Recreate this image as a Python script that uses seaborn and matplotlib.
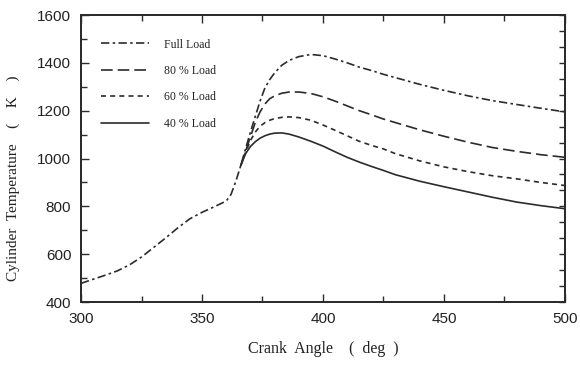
import matplotlib
matplotlib.use("Agg")
import matplotlib.pyplot as plt
from matplotlib.ticker import MultipleLocator
import numpy as np
import pandas as pd
import seaborn as sns

# Compression stroke (shared by every load) and combustion/expansion part
compression_angle = [300, 305, 310, 315, 320, 325, 330, 335, 340, 345, 350,
                     355, 360, 362, 364, 366]
compression_temp = [478, 495, 512, 530, 555, 588, 628, 668, 710, 748, 775,
                    798, 822, 850, 905, 970]

expansion_angle = [366, 368, 370, 372, 374, 376, 378, 380, 383, 386, 390, 395,
                   400, 405, 410, 415, 420, 425, 430, 440, 450, 460, 470, 480,
                   490, 500]
full_load = [970, 1040, 1110, 1175, 1240, 1295, 1330, 1358, 1390, 1410, 1426,
             1435, 1430, 1416, 1400, 1382, 1368, 1352, 1338, 1310, 1285, 1262,
             1242, 1226, 1210, 1195]
load_80 = [970, 1030, 1090, 1150, 1195, 1228, 1250, 1262, 1273, 1278, 1278,
           1272, 1258, 1240, 1220, 1200, 1183, 1165, 1150, 1120, 1093, 1068,
           1046, 1030, 1016, 1005]
load_60 = [970, 1025, 1075, 1110, 1135, 1150, 1160, 1167, 1172, 1174, 1171,
           1160, 1140, 1118, 1095, 1072, 1055, 1040, 1020, 990, 965, 945, 928,
           915, 900, 887]
load_40 = [970, 1020, 1050, 1070, 1085, 1095, 1102, 1106, 1107, 1102, 1090,
           1072, 1052, 1028, 1005, 985, 967, 950, 932, 905, 882, 860, 838, 818,
           803, 790]

labels = ["Full Load", "80 % Load", "60 % Load", "40 % Load"]

sns.set_theme(style="white")
plt.rcParams["font.family"] = ["Liberation Sans", "DejaVu Sans"]

fig = plt.figure(figsize=(5.8, 3.65), dpi=100)
ax = fig.add_axes([0.1397, 0.1726, 0.8343, 0.7863])

ink = "#2b2b2b"
styles = [(5, 2, 1.5, 2), (7, 3), (3, 2.5), ()]
series = [full_load, load_80, load_60, load_40]

handles = []
for i, (lab, vals, dash) in enumerate(zip(labels, series, styles)):
    if i == 0:
        x = compression_angle[:-1] + expansion_angle
        y = compression_temp[:-1] + vals
    else:
        x = expansion_angle
        y = vals
    df = pd.DataFrame({"angle": x, "temp": y})
    sns.lineplot(data=df, x="angle", y="temp", ax=ax, color=ink, lw=1.2,
                 label=lab)
    line = ax.lines[-1]
    if dash:
        line.set_dashes(dash)
    handles.append(line)

ax.set_xlim(300, 500)
ax.set_ylim(400, 1600)
ax.xaxis.set_major_locator(MultipleLocator(50))
ax.xaxis.set_minor_locator(MultipleLocator(25))
ax.yaxis.set_major_locator(MultipleLocator(200))
ax.yaxis.set_minor_locator(MultipleLocator(100))
ax.tick_params(axis="both", which="both", direction="in", color=ink,
               top=True, right=False, bottom=True, left=True)
ax.tick_params(which="major", length=6, width=1, labelsize=11,
               labelcolor="#222222", pad=7)
ax.tick_params(which="minor", length=4, width=1)

# right-hand scale ticks
ax_r = ax.twinx()
ax_r.set_ylim(0, 18)
ax_r.yaxis.set_major_locator(MultipleLocator(1))
ax_r.tick_params(axis="y", direction="in", length=4, width=1, color=ink,
                 labelright=False)
ax_r.grid(False)

for a in (ax, ax_r):
    for sp in a.spines.values():
        sp.set_color(ink)
        sp.set_linewidth(1.3)

serif = ["Liberation Serif", "DejaVu Serif"]
ax.set_xlabel("Crank  Angle    (  deg  )", family=serif, fontsize=11.5,
              color="#222222", labelpad=11)
ax.set_ylabel("Cylinder  Temperature    (    K    )", family=serif,
              fontsize=11, color="#222222")
ax.yaxis.set_label_coords(-0.126, 0.43)

leg = ax.legend(handles=handles, labels=labels, loc="upper left",
                bbox_to_anchor=(0.02, 0.955), frameon=False,
                prop={"family": serif, "size": 8.5}, handlelength=4.0,
                handletextpad=1.3, labelspacing=1.22)
for t in leg.get_texts():
    t.set_color("#222222")

fig.savefig("out.png", dpi=100)
